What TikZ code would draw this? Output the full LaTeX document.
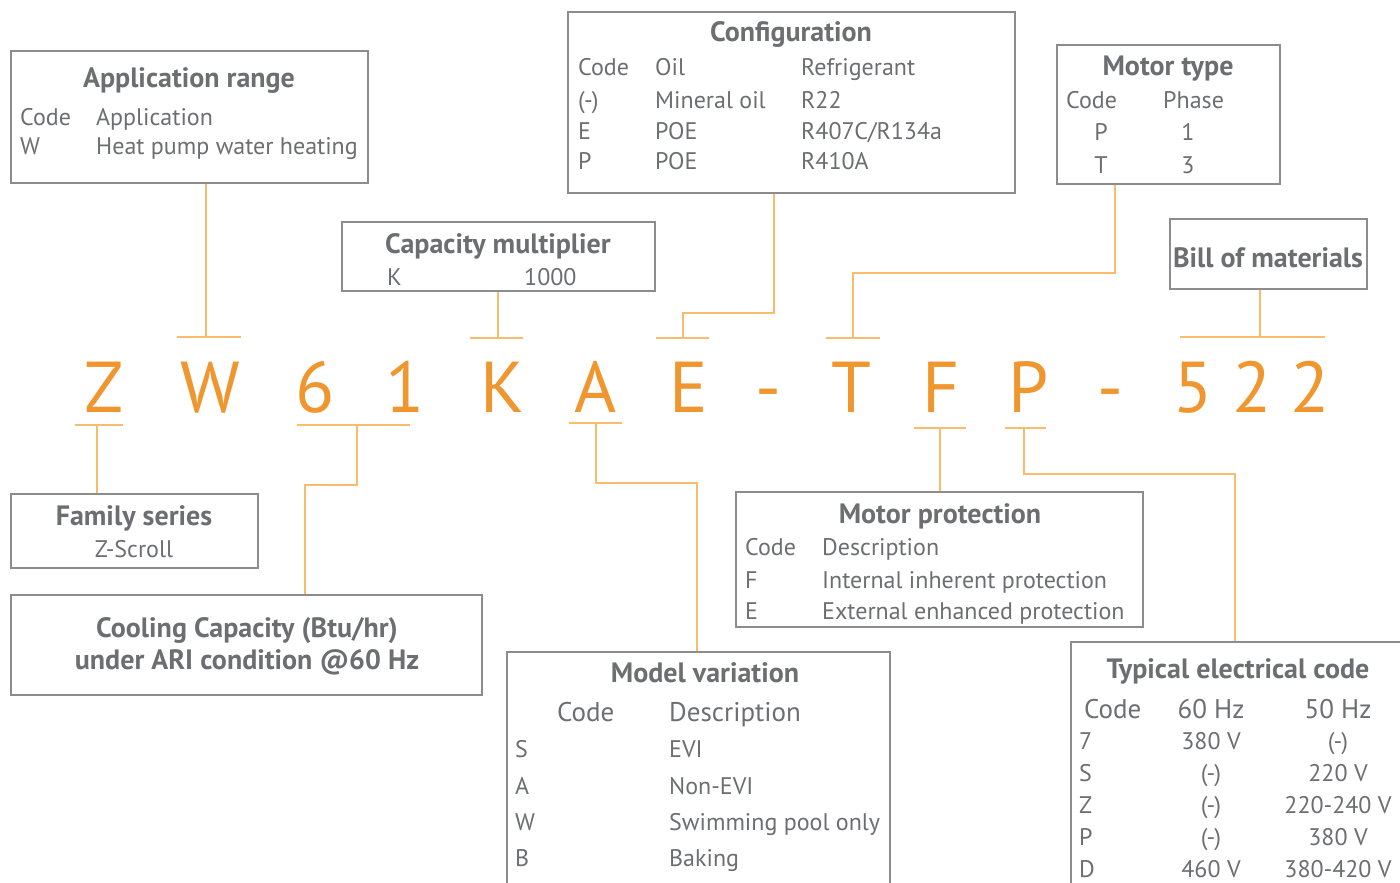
\documentclass[tikz,border=0pt]{standalone}
\usepackage{fontspec}
\setmainfont{PT Sans}
\usepackage{xcolor}
\definecolor{txtgray}{HTML}{6D6E71}
\definecolor{boxgray}{HTML}{8C8C8C}
\definecolor{codeorange}{HTML}{F0962E}
\definecolor{lineorange}{HTML}{F9BC6E}
\tikzset{
  box/.style={draw=boxgray, line width=1.5pt, inner sep=0pt},
  ttl/.style={text=txtgray, inner sep=0pt, font=\bfseries\fontsize{28}{32}\selectfont},
  txt/.style={text=txtgray, inner sep=0pt, font=\fontsize{24}{28}\selectfont},
  hdr/.style={text=txtgray, inner sep=0pt, font=\fontsize{27}{31}\selectfont},
  link/.style={draw=lineorange, line width=1.5pt},
  code/.style={text=codeorange, inner sep=0pt, anchor=base, font=\fontsize{72}{80}\selectfont}
}

\begin{document}
\begin{tikzpicture}[x=1pt,y=-1pt]
 \clip (0,0) rectangle (1400,883);
 \fill[white] (0,0) rectangle (1400,883);

 % the code letters
 \foreach \c/\x [count=\i] in {Z/104, W/210, 6/315, 1/405, K/502, A/596, E/689, -/768, T/851, F/941, P/1029, -/1110, 5/1193, 2/1252, 2/1310}
   \node[code] (c\i) at (\x,412) {\c};

 % boxes
 \node[box, minimum width=357, minimum height=132] (apprange) at (189.5,117) {};
 \node[box, minimum width=313, minimum height=69] (capmult) at (498.5,256.5) {};
 \node[box, minimum width=447, minimum height=181] (config) at (791.5,102.5) {};
 \node[box, minimum width=223, minimum height=139] (motortype) at (1168.5,114.5) {};
 \node[box, minimum width=197, minimum height=70] (bom) at (1268.5,254) {};
 \node[box, minimum width=247, minimum height=74] (family) at (134.5,531) {};
 \node[box, minimum width=471, minimum height=100] (cooling) at (246.5,645) {};
 \node[box, minimum width=383, minimum height=268] (modelvar) at (698.5,786) {};
 \node[box, minimum width=407, minimum height=135] (motorprot) at (939.5,559.5) {};
 \node[box, minimum width=369, minimum height=278] (typical) at (1255.5,781) {};

 % Application range
 \node[ttl, anchor=base] at (189,88) {Application range};
 \node[txt, anchor=base west] at (20,125) {Code};
 \node[txt, anchor=base west] at (96,125) {Application};
 \node[txt, anchor=base west] at (20,154) {W};
 \node[txt, anchor=base west] at (96,154) {Heat pump water heating};

 % Capacity multiplier
 \node[ttl, anchor=base] at (498,253) {Capacity multiplier};
 \node[txt, anchor=base west] at (387,285) {K};
 \node[txt, anchor=base west] at (524,285) {1000};

 % Configuration
 \node[ttl, anchor=base] at (791,42) {Configuration};
 \foreach \a/\b/\d/\y in {Code/Oil/Refrigerant/75, (-)/Mineral oil/R22/108, E/POE/R407C\slash R134a/139, P/POE/R410A/169} {
   \node[txt, anchor=base west] at (578,\y) {\a};
   \node[txt, anchor=base west] at (655,\y) {\b};
   \node[txt, anchor=base west] at (801,\y) {\d};
 }

 % Motor type
 \node[ttl, anchor=base] at (1168,75) {Motor type};
 \node[txt, anchor=base west] at (1066,108) {Code};
 \node[txt, anchor=base west] at (1163,108) {Phase};
 \node[txt, anchor=base] at (1101,140) {P};
 \node[txt, anchor=base] at (1188,140) {1};
 \node[txt, anchor=base] at (1101,173) {T};
 \node[txt, anchor=base] at (1188,173) {3};

 % Bill of materials
 \node[ttl, anchor=base] at (1268,267) {Bill of materials};

 % Family series
 \node[ttl, anchor=base] at (134,525) {Family series};
 \node[txt, anchor=base] at (134,557) {Z-Scroll};

 % Cooling capacity
 \node[ttl, anchor=base] at (247,637) {Cooling Capacity (Btu/hr)};
 \node[ttl, anchor=base] at (247,669) {under ARI condition @60 Hz};

 % Model variation
 \node[ttl, anchor=base] at (705,682) {Model variation};
 \node[hdr, anchor=base west] at (557,721) {Code};
 \node[hdr, anchor=base west] at (669,721) {Description};
 \foreach \a/\b/\y in {S/EVI/757, A/Non-EVI/794, W/Swimming pool only/830, B/Baking/866} {
   \node[txt, anchor=base west] at (515,\y) {\a};
   \node[txt, anchor=base west] at (669,\y) {\b};
 }

 % Motor protection
 \node[ttl, anchor=base] at (940,523) {Motor protection};
 \foreach \a/\b/\y in {Code/Description/555, F/Internal inherent protection/588, E/External enhanced protection/619} {
   \node[txt, anchor=base west] at (745,\y) {\a};
   \node[txt, anchor=base west] at (822,\y) {\b};
 }

 % Typical electrical code
 \node[ttl, anchor=base] at (1238,678) {Typical electrical code};
 \node[hdr, anchor=base west] at (1084,718) {Code};
 \node[hdr, anchor=base] at (1211,718) {60 Hz};
 \node[hdr, anchor=base] at (1338,718) {50 Hz};
 \foreach \a/\b/\d/\y in {7/380 V/(-)/749, S/(-)/220 V/781, Z/(-)/220-240 V/813, P/(-)/380 V/845, D/460 V/380-420 V/877} {
   \node[txt, anchor=base west] at (1079,\y) {\a};
   \node[txt, anchor=base] at (1211,\y) {\b};
   \node[txt, anchor=base] at (1338,\y) {\d};
 }

 % bars over and under the letters
 \foreach \a/\b/\y in {177/241/337, 470/523/338, 656/709/338, 826/880/338, 1180/1325/337,
                       75/123/425, 297/410/425, 569/622/423, 914/966/428, 1005/1046/428}
   \draw[link] (\a,\y) -- (\b,\y);

 % where the links meet the bars
 \coordinate (tW) at (206,337);
 \coordinate (tK) at (498,338);
 \coordinate (tE) at (683,338);
 \coordinate (kE) at (774,313);
 \coordinate (tT) at (853,338);
 \coordinate (kT) at (1115,273);
 \coordinate (tB) at (1260,337);
 \coordinate (tZ) at (97,425);
 \coordinate (t61) at (357,425);
 \coordinate (k61) at (305,485);
 \coordinate (tA) at (596,423);
 \coordinate (kA) at (697,483);
 \coordinate (tF) at (940,428);
 \coordinate (tP) at (1024,428);
 \coordinate (kP) at (1235,474);

 % links
 \draw[link] (apprange.south -| tW) -- (tW);
 \draw[link] (capmult.south -| tK) -- (tK);
 \draw[link] (config.south -| kE) -- (kE) -| (tE);
 \draw[link] (motortype.south -| kT) -- (kT) -| (tT);
 \draw[link] (bom.south -| tB) -- (tB);
 \draw[link] (tZ) -- (tZ |- family.north);
 \draw[link] (t61) |- (k61) -- (k61 |- cooling.north);
 \draw[link] (tA) |- (kA) -- (kA |- modelvar.north);
 \draw[link] (tF) -- (tF |- motorprot.north);
 \draw[link] (tP) |- (kP) -- (kP |- typical.north);
\end{tikzpicture}
\end{document}
